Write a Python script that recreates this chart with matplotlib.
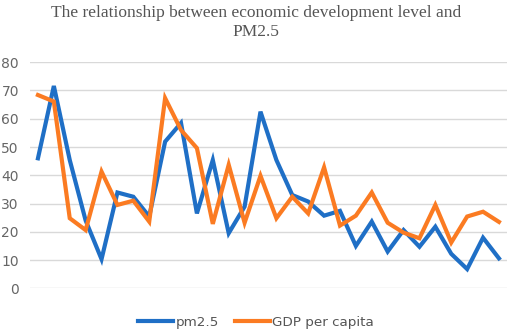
import numpy as np
import matplotlib
matplotlib.use("Agg")
import matplotlib.pyplot as plt

# values (30 regions)
pm25 = [46.0, 71.6, 45.4, 24.0, 10.3, 33.9, 32.4, 25.4, 51.9, 58.5,
        26.5, 45.4, 19.5, 28.9, 62.5, 45.4, 33.0, 30.7, 25.7, 27.4,
        15.0, 23.6, 13.0, 20.6, 14.7, 21.8, 12.2, 6.8, 17.9, 10.6]
gdp_per_capita = [68.4, 66.1, 24.8, 20.6, 41.3, 29.5, 31.0, 23.6, 67.3, 56.0,
                  49.6, 22.8, 43.7, 23.2, 39.8, 24.8, 32.4, 26.5, 42.8, 22.2,
                  25.7, 33.9, 23.2, 19.7, 17.7, 29.5, 16.2, 25.4, 27.1, 23.5]
y_ticks = [0, 10, 20, 30, 40, 50, 60, 70, 80]

x = np.arange(len(pm25))

fig = plt.figure(figsize=(5.12, 3.31), dpi=100)
ax = fig.add_axes([0.0586, 0.129, 0.9314, 0.683])

ax.plot(x, pm25, color='#1F6FC6', lw=3.0, label='pm2.5', solid_joinstyle='miter')
ax.plot(x, gdp_per_capita, color='#FB7B22', lw=3.0, label='GDP per capita', solid_joinstyle='miter')

ax.set_xlim(-0.5, len(pm25) - 0.5)
ax.set_ylim(0, 80)
ax.set_yticks(y_ticks)
ax.set_xticks([])
ax.grid(axis='y', color='#D9D9D9', lw=1.0)
ax.set_axisbelow(True)
for s in ax.spines.values():
    s.set_visible(False)
ax.tick_params(axis='y', length=0, pad=8, labelsize=10, labelcolor='#666666')

fig.text(0.5, 0.932, 'The relationship between economic development level and\nPM2.5',
         ha='center', va='center', fontsize=12.5, family='Liberation Serif',
         color='#555555', linespacing=1.2)

leg = fig.legend(loc='center', bbox_to_anchor=(0.5, 0.027), ncol=2, frameon=False,
                 fontsize=9.7, handlelength=2.6, handletextpad=0.15, columnspacing=1.2)
for t in leg.get_texts():
    t.set_color('#555555')

fig.savefig('out.png', dpi=100)
